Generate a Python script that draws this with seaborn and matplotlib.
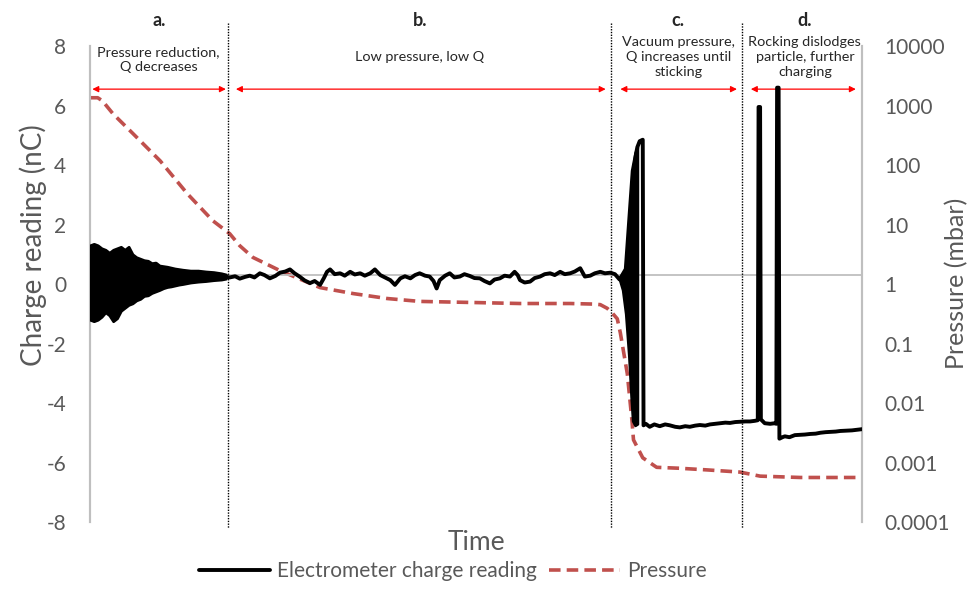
import numpy as np
import pandas as pd
import matplotlib
matplotlib.use('Agg')
import matplotlib.pyplot as plt
import seaborn as sns
from matplotlib.ticker import FixedLocator, NullLocator

sns.set_style('white')
plt.rcParams['font.family'] = ['Lato', 'DejaVu Sans']

# time axis has no units, 0..100 across the plot
x_limits = [0, 100]
charge_ticks = [-8, -6, -4, -2, 0, 2, 4, 6, 8]
pressure_ticks = [0.0001, 0.001, 0.01, 0.1, 1, 10, 100, 1000, 10000]
pressure_tick_labels = ['0.0001', '0.001', '0.01', '0.1', '1', '10', '100', '1000', '10000']

# phase a: dense oscillation, envelope
osc_time = [0, 0.5, 1, 1.5, 2, 2.5, 3, 3.5, 4, 4.5, 5, 5.5, 6, 6.5, 7, 7.5, 8, 8.5, 9, 9.5, 10,
            10.5, 11, 11.5, 12, 13, 14, 15, 16, 17, 17.6]
osc_upper = [1.3, 1.35, 1.3, 1.2, 1.15, 1.05, 1.15, 1.2, 1.25, 1.15, 1.25, 1.0, 0.9, 0.85, 0.8,
             0.78, 0.7, 0.72, 0.62, 0.6, 0.58, 0.55, 0.52, 0.5, 0.48, 0.45, 0.45, 0.42, 0.4, 0.36, 0.32]
osc_lower = [-1.2, -1.25, -1.2, -1.1, -0.95, -1.05, -1.25, -1.15, -0.9, -0.8, -0.7, -0.65, -0.55,
             -0.5, -0.4, -0.38, -0.3, -0.25, -0.2, -0.14, -0.1, -0.08, -0.05, -0.02, 0.0, 0.05,
             0.08, 0.1, 0.13, 0.15, 0.18]

# phase c: growing oscillation before sticking
band_time = [68.6, 69.0, 69.4, 69.8, 70.1, 70.3, 70.6, 70.9]
band_upper = [0.2, 0.3, 0.5, 1.2, 2.6, 3.8, 4.4, 4.6]
band_lower = [0.15, -0.2, -1.0, -2.4, -3.8, -4.6, -4.75, -4.7]

# electrometer trace
charge_time = [17.5, 18.1, 18.8, 19.4, 20.1, 20.7, 21.3, 22.0, 22.6, 23.3, 24.0, 24.6, 25.3, 25.9,
               26.5, 27.2, 27.8, 28.5, 29.1, 29.8, 30.3, 30.7, 31.1, 31.7, 32.4, 33.0, 33.7, 34.3,
               35.0, 35.6, 36.3, 36.9, 37.6, 38.2, 38.9, 39.5, 40.2, 40.8, 41.5, 42.1, 42.7, 43.4,
               44.0, 44.5, 44.9, 45.3, 46.0, 46.6, 47.2, 47.9, 48.5, 49.2, 49.8, 50.5, 51.1, 51.8,
               52.4, 53.1, 53.7, 54.4, 55.0, 55.4, 55.7, 56.3, 57.0, 57.6, 58.3, 58.9, 59.6, 60.2,
               60.9, 61.5, 62.2, 62.8, 63.5, 64.1, 64.8, 65.4, 66.1, 66.7, 67.4, 68.0, 68.6, 69.4,
               70.3, 70.9, 71.2, 71.6, 71.7, 72.0, 72.5, 73.1, 73.8, 74.5, 75.1, 75.8, 76.4, 77.1,
               77.7, 78.4, 79.0, 79.7, 80.3, 81.0, 81.6, 82.3, 82.9, 83.6, 84.2, 84.9, 85.5, 86.1,
               86.5, 86.6, 86.8, 86.9, 87.4, 88.1, 88.7, 88.9, 89.0, 89.2, 89.3, 89.7, 90.0, 90.6,
               91.3, 92.0, 92.6, 93.3, 94.0, 94.6, 95.3, 96.0, 96.6, 97.2, 98.0, 98.7, 99.3, 100.0]
charge_values = [0.25, 0.22, 0.26, 0.18, 0.24, 0.28, 0.22, 0.36, 0.30, 0.19, 0.27, 0.38, 0.42, 0.49,
                 0.36, 0.24, 0.12, 0.03, 0.10, -0.03, 0.20, 0.41, 0.49, 0.33, 0.36, 0.28, 0.41, 0.32,
                 0.36, 0.28, 0.36, 0.49, 0.30, 0.22, 0.13, -0.03, 0.19, 0.26, 0.19, 0.30, 0.36, 0.28,
                 0.25, 0.10, -0.15, 0.13, 0.28, 0.36, 0.22, 0.25, 0.33, 0.27, 0.20, 0.19, 0.10, 0.02,
                 0.15, 0.19, 0.28, 0.25, 0.41, 0.30, 0.13, 0.05, 0.08, 0.20, 0.25, 0.33, 0.36, 0.30,
                 0.41, 0.33, 0.36, 0.42, 0.53, 0.25, 0.28, 0.36, 0.41, 0.36, 0.38, 0.33, 0.15, 0.5,
                 3.8, 4.6, 4.8, 4.85, -4.75, -4.7, -4.8, -4.72, -4.78, -4.72, -4.75, -4.8, -4.82, -4.78,
                 -4.8, -4.76, -4.74, -4.76, -4.72, -4.7, -4.68, -4.66, -4.67, -4.64, -4.63, -4.62, -4.62, -4.6,
                 -4.58, 5.95, 5.95, -4.55, -4.68, -4.7, -4.68, -4.7, 6.6, 6.6, -5.2, -5.15, -5.12, -5.15,
                 -5.08, -5.07, -5.06, -5.04, -5.03, -5.0, -4.98, -4.97, -4.96, -4.94, -4.93, -4.92, -4.9, -4.88]

# chamber pressure (mbar)
pressure_time = [0, 1.0, 1.6, 3.0, 5.6, 9.1, 12.6, 15.9, 18.1, 19.4, 21.1, 24.6, 29.8, 34.1, 38.5,
                 42.7, 49.2, 55.7, 62.2, 65.2, 66.1, 67.0, 67.7, 68.3, 68.7, 69.6, 70.2, 70.4, 71.6,
                 73.4, 76.4, 80.0, 84.2, 86.8, 92.0, 100.0]
pressure_values = [1350, 1350, 1200, 720, 334, 117, 33, 11.6, 7.0, 4.4, 2.8, 1.68, 0.87, 0.69, 0.57,
                   0.51, 0.49, 0.47, 0.47, 0.46, 0.45, 0.39, 0.32, 0.26, 0.15, 0.031, 0.0051, 0.0024,
                   0.0012, 0.00083, 0.0008, 0.00075, 0.00069, 0.00059, 0.00056, 0.00056]

# phases
phase_bounds = [17.9, 67.5, 84.5]
phase_letters = ['a.', 'b.', 'c.', 'd.']
phase_notes = ['Pressure reduction,\nQ decreases', 'Low pressure, low Q',
               'Vacuum pressure,\nQ increases until\nsticking',
               'Rocking dislodges\nparticle, further\ncharging']
phase_centres = [8.9, 42.7, 76.2, 92.6]
arrow_spans = [(0.3, 17.6), (18.9, 66.8), (68.7, 83.8), (85.6, 99.2)]

grey = '#595959'
axis_grey = '#BFBFBF'
red = '#C0504D'

charge_df = pd.DataFrame({'time': charge_time, 'charge': charge_values})
pressure_df = pd.DataFrame({'time': pressure_time, 'pressure': pressure_values})

fig = plt.figure(figsize=(9.67, 5.89), dpi=100)
ax = fig.add_axes([0.09307, 0.11375, 0.79835, 0.80815])
ax2 = ax.twinx()

ax.axhline(0.3, color=axis_grey, lw=1.3, zorder=1)
ax.fill_between(osc_time, osc_lower, osc_upper, color='black', lw=2, zorder=3)
ax.fill_between(band_time, band_lower, band_upper, color='black', lw=2, zorder=3)
sns.lineplot(data=charge_df, x='time', y='charge', ax=ax, color='black', lw=2.8,
             sort=False, estimator=None, zorder=4)
charge_line = ax.lines[-1]

sns.lineplot(data=pressure_df, x='time', y='pressure', ax=ax2, color=red, lw=2.6,
             sort=False, estimator=None, zorder=5)
pressure_line = ax2.lines[-1]
pressure_line.set_dashes((3.2, 1.7))
ax2.set_yscale('log')

ax.set_xlim(x_limits)
ax.set_ylim(-8, 8)
ax2.set_ylim(1e-4, 1e4)
ax.set_zorder(ax2.get_zorder() + 1)
ax.patch.set_visible(False)

ax.xaxis.set_major_locator(NullLocator())
ax.set_yticks(charge_ticks)
ax.set_yticklabels([str(v) for v in charge_ticks])
ax2.yaxis.set_major_locator(FixedLocator(pressure_ticks))
ax2.yaxis.set_minor_locator(NullLocator())
ax2.set_yticklabels(pressure_tick_labels)
ax.tick_params(axis='y', length=0, pad=17, labelsize=15, labelcolor=grey)
ax2.tick_params(axis='y', length=0, pad=16, labelsize=15, labelcolor=grey)
ax.set_xlabel('')
ax.set_ylabel('')
ax2.set_xlabel('')
ax2.set_ylabel('')

for a in (ax, ax2):
    for side in ('top', 'bottom'):
        a.spines[side].set_visible(False)
    a.spines['left'].set_color(axis_grey)
    a.spines['right'].set_color(axis_grey)
    a.spines['left'].set_linewidth(1.5)
    a.spines['right'].set_linewidth(1.5)

# phase separators and labels
for b in phase_bounds:
    ax.plot([b, b], [8.77, -8.2], color='black', ls=(0, (1, 1)), lw=1.0, clip_on=False, zorder=2)

for letter, note, xc, (x0, x1) in zip(phase_letters, phase_notes, phase_centres, arrow_spans):
    ax.text(xc, 8.87, letter, ha='center', va='center', fontsize=13, fontweight='bold')
    n = note.count('\n') + 1
    yc = 7.53 if n == 2 else (7.63 if n == 1 else 7.64)
    ax.text(xc, yc, note, ha='center', va='center', fontsize=10.4, linespacing=1.28)
    ax.annotate('', xy=(x1, 6.55), xytext=(x0, 6.55),
                arrowprops=dict(arrowstyle='<|-|>', color='red', lw=0.9,
                                mutation_scale=9, shrinkA=0, shrinkB=0))

fig.text(33 / 967, 1 - 245 / 589, 'Charge reading (nC)', rotation=90, ha='center', va='center',
         fontsize=20, color=grey)
fig.text(957 / 967, 1 - 283 / 589, 'Pressure (mbar)', rotation=90, ha='center', va='center',
         fontsize=18, color=grey)
fig.text(476 / 967, 1 - 542 / 589, 'Time', ha='center', va='center', fontsize=19, color=grey)

fig.legend([charge_line, pressure_line], ['Electrometer charge reading', 'Pressure'], loc='center',
           bbox_to_anchor=(453 / 967, 1 - 571 / 589), ncol=2, frameon=False, fontsize=15,
           labelcolor=grey, handlelength=3.4, handletextpad=0.35, columnspacing=0.6)

fig.savefig('out.png', dpi=100)
